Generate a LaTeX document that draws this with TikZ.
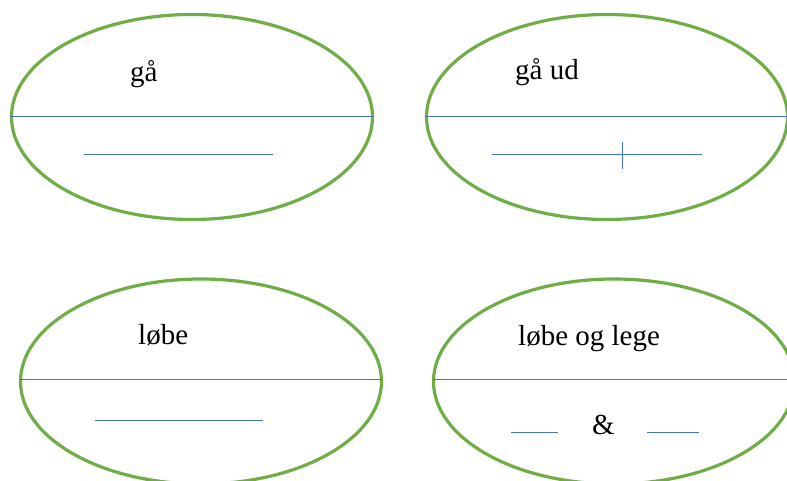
\documentclass[tikz,border=0pt]{standalone}
\usepackage{fontspec}
\setmainfont{Liberation Serif}
\usetikzlibrary{shapes.geometric}
\definecolor{ovalgreen}{HTML}{70AD47}
\definecolor{lineblue}{HTML}{4472C4}
\tikzset{
  oval/.style={ellipse, draw=ovalgreen, line width=3.2pt, inner sep=0pt, minimum width=361pt, minimum height=205pt},
  blueline/.style={draw=lineblue, line width=1pt},
  word/.style={anchor=base west, inner sep=0pt, font=\fontsize{29}{31}\selectfont}
}
\begin{document}
\begin{tikzpicture}[x=1pt,y=-1pt]
\useasboundingbox (0,0) rectangle (787,481);
\begin{scope}
\clip (0,0) rectangle (787,481);
% top left
\node[oval] (e1) at (192,117) {};
\draw[blueline] (e1.west) -- (e1.east);
\coordinate (l1a) at (84,155); \coordinate (l1b) at (273,155);
\draw[blueline] (l1a) -- (l1b);
\node[word] (t1) at (130,82) {gå};
% top right
\node[oval] (e2) at (607,117) {};
\draw[blueline] (e2.west) -- (e2.east);
\coordinate (l2a) at (492,155); \coordinate (l2b) at (702,155);
\draw[blueline] (l2a) -- (l2b);
\coordinate (k2a) at (622,142); \coordinate (k2b) at (622,169);
\draw[blueline] (k2a) -- (k2b);
\node[word] (t2) at (515,80) {gå ud};
% bottom left
\node[oval] (e3) at (201,381.5) {};
\coordinate (h3a) at (20,379); \coordinate (h3b) at (382,379);
\draw[blueline] (h3a) -- (h3b);
\coordinate (l3a) at (95,420.5); \coordinate (l3b) at (263,420.5);
\draw[blueline] (l3a) -- (l3b);
\node[word] (t3) at (138,344) {løbe};
% bottom right
\node[oval] (e4) at (614,381.5) {};
\coordinate (h4a) at (433,379); \coordinate (h4b) at (795,379);
\draw[blueline] (h4a) -- (h4b);
\coordinate (l4a) at (511,432); \coordinate (l4b) at (558,432);
\draw[blueline] (l4a) -- (l4b);
\coordinate (l5a) at (647,432); \coordinate (l5b) at (699,432);
\draw[blueline] (l5a) -- (l5b);
\node[word] (t4) at (518,345) {løbe og lege};
\node[word] (amp) at (592,434) {\&};
\end{scope}
\end{tikzpicture}
\end{document}
